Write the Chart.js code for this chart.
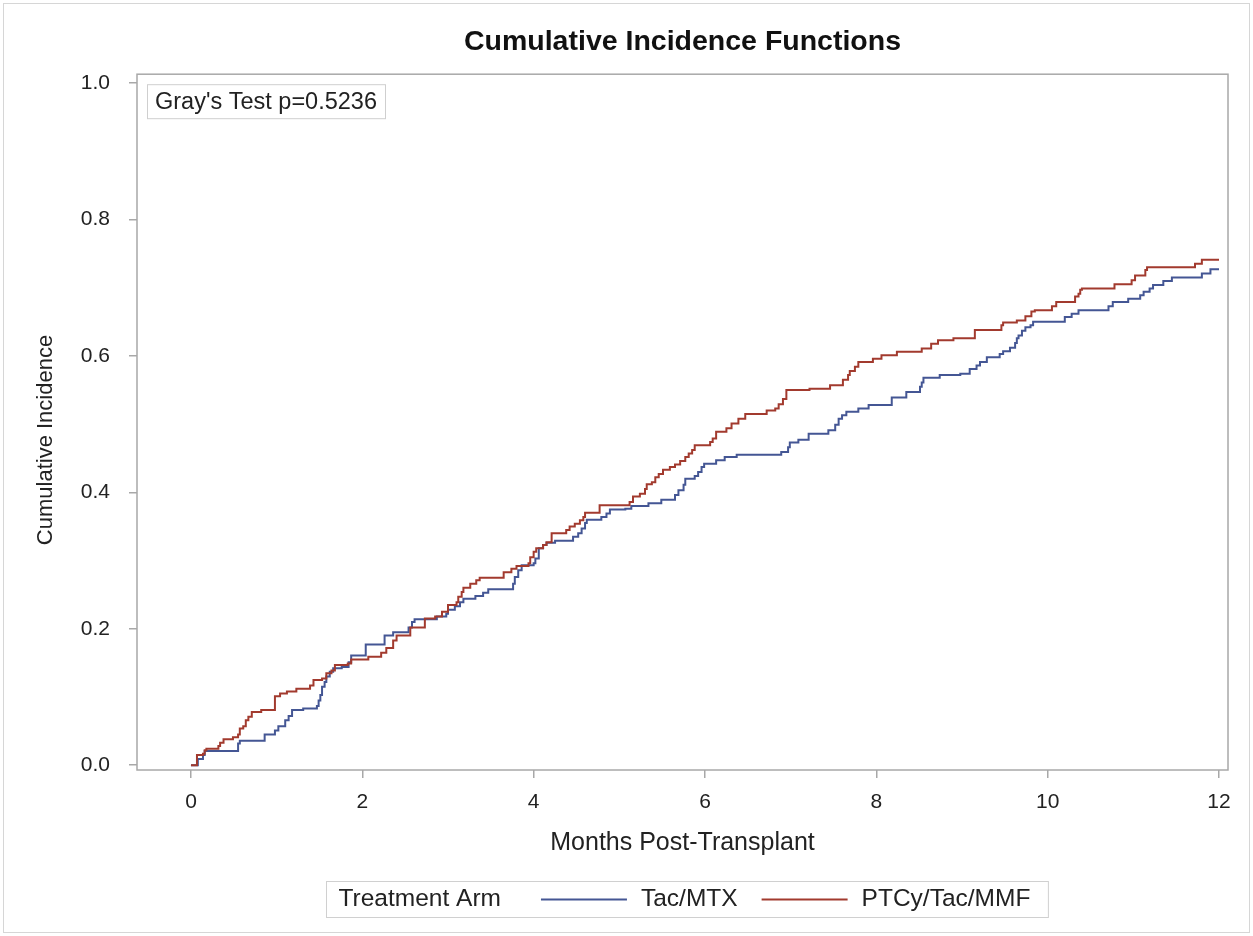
<!DOCTYPE html>
<html>
<head>
<meta charset="utf-8">
<script src="https://cdn.jsdelivr.net/npm/chart.js@4"></script>
<style>
  body { margin: 0; background: #fff; }
  canvas { display: block; }
</style>
</head>
<body>
<canvas id="myChart" width="1253" height="936"></canvas>
<script>
const xTicks = [0, 2, 4, 6, 8, 10, 12];
const yTicks = [0, 0.2, 0.4, 0.6, 0.8, 1.0];

const seriesNames = ["Tac/MTX", "PTCy/Tac/MMF"];

// Tac/MTX step points (months, cumulative incidence)
const tacMonths = [0, 0.08, 0.14, 0.16, 0.55, 0.57, 0.86, 0.98, 1.02, 1.10, 1.14, 1.18, 1.31, 1.47, 1.49, 1.51, 1.53, 1.56, 1.58, 1.62, 1.66, 1.76, 1.84, 1.87,
  2.04, 2.26, 2.36, 2.54, 2.58, 2.61, 2.87, 2.98, 3.00, 3.08, 3.14, 3.18, 3.32, 3.41, 3.47, 3.76, 3.78, 3.82, 3.86,
  4.00, 4.02, 4.06, 4.11, 4.15, 4.25, 4.46, 4.52, 4.56, 4.60, 4.62, 4.79, 4.85, 4.89, 5.07, 5.14, 5.34, 5.49, 5.65, 5.69, 5.75, 5.77, 5.88, 5.92, 5.96, 5.99,
  6.13, 6.23, 6.37, 6.89, 6.97, 6.99, 7.09, 7.21, 7.44, 7.52, 7.56, 7.60, 7.65, 7.79, 7.91,
  8.18, 8.35, 8.51, 8.53, 8.55, 8.74, 8.98, 9.09, 9.17, 9.21, 9.29, 9.44, 9.48, 9.56, 9.62, 9.64, 9.66, 9.70, 9.74, 9.80, 9.83,
  10.20, 10.28, 10.36, 10.71, 10.76, 10.94, 11.08, 11.12, 11.19, 11.23, 11.35, 11.45, 11.80, 11.90, 12.00];
const tacCI = [0, 0.009, 0.015, 0.021, 0.032, 0.036, 0.045, 0.051, 0.057, 0.066, 0.072, 0.081, 0.083, 0.087, 0.095, 0.103, 0.115, 0.122, 0.130, 0.137, 0.142, 0.144, 0.151, 0.161,
  0.177, 0.190, 0.195, 0.202, 0.210, 0.214, 0.218, 0.222, 0.228, 0.233, 0.239, 0.244, 0.248, 0.253, 0.258, 0.266, 0.276, 0.286, 0.293,
  0.296, 0.303, 0.318, 0.323, 0.326, 0.329, 0.335, 0.340, 0.347, 0.355, 0.360, 0.364, 0.369, 0.375, 0.376, 0.380, 0.384, 0.389, 0.396, 0.403, 0.411, 0.420, 0.424, 0.430, 0.437, 0.442,
  0.447, 0.452, 0.455, 0.459, 0.466, 0.473, 0.477, 0.486, 0.491, 0.499, 0.508, 0.513, 0.518, 0.523, 0.528,
  0.539, 0.547, 0.555, 0.561, 0.568, 0.572, 0.574, 0.581, 0.586, 0.591, 0.598, 0.603, 0.607, 0.612, 0.619, 0.626, 0.630, 0.637, 0.642, 0.645, 0.650,
  0.657, 0.662, 0.667, 0.673, 0.679, 0.684, 0.689, 0.694, 0.699, 0.704, 0.710, 0.715, 0.721, 0.727, 0.727];

// PTCy/Tac/MMF step points
const ptcyMonths = [0, 0.07, 0.14, 0.16, 0.18, 0.32, 0.34, 0.38, 0.49, 0.55, 0.57, 0.61, 0.64, 0.67, 0.71, 0.82, 0.98, 1.04, 1.12, 1.23, 1.39, 1.43, 1.53, 1.58, 1.64, 1.68, 1.83, 1.87,
  2.07, 2.22, 2.28, 2.36, 2.40, 2.56, 2.73, 2.85, 2.93, 3.00, 3.10, 3.12, 3.16, 3.18, 3.26, 3.33, 3.37, 3.65, 3.74, 3.80, 3.94, 3.96,
  4.00, 4.03, 4.11, 4.15, 4.21, 4.38, 4.42, 4.48, 4.54, 4.58, 4.60, 4.77, 5.12, 5.16, 5.24, 5.30, 5.32, 5.38, 5.42, 5.46, 5.51, 5.59, 5.65, 5.71, 5.77, 5.81, 5.85, 5.88,
  6.06, 6.09, 6.13, 6.25, 6.31, 6.39, 6.47, 6.72, 6.82, 6.86, 6.91, 6.95, 7.22, 7.46, 7.61, 7.67, 7.69, 7.75, 7.79, 7.96,
  8.06, 8.24, 8.53, 8.64, 8.72, 8.90, 9.15, 9.46, 9.48, 9.64, 9.74, 9.81, 9.85,
  10.05, 10.10, 10.32, 10.36, 10.38, 10.40, 10.78, 10.98, 11.02, 11.14, 11.16, 11.72, 11.80, 12.00];
const ptcyCI = [0, 0.015, 0.017, 0.022, 0.024, 0.028, 0.033, 0.038, 0.041, 0.045, 0.054, 0.057, 0.066, 0.071, 0.078, 0.081, 0.101, 0.105, 0.108, 0.112, 0.117, 0.125, 0.127, 0.135, 0.139, 0.147, 0.149, 0.155,
  0.159, 0.165, 0.172, 0.183, 0.190, 0.202, 0.215, 0.218, 0.225, 0.235, 0.239, 0.247, 0.254, 0.260, 0.266, 0.271, 0.275, 0.283, 0.288, 0.292, 0.296, 0.305,
  0.313, 0.318, 0.323, 0.327, 0.340, 0.345, 0.350, 0.354, 0.359, 0.364, 0.370, 0.381, 0.386, 0.394, 0.398, 0.405, 0.412, 0.415, 0.422, 0.427, 0.433, 0.437, 0.441, 0.446, 0.452, 0.457, 0.462, 0.469,
  0.474, 0.479, 0.489, 0.494, 0.501, 0.508, 0.515, 0.520, 0.523, 0.529, 0.537, 0.550, 0.552, 0.557, 0.565, 0.572, 0.578, 0.584, 0.591, 0.596,
  0.601, 0.606, 0.611, 0.618, 0.623, 0.626, 0.638, 0.645, 0.649, 0.652, 0.658, 0.665, 0.667,
  0.673, 0.679, 0.687, 0.691, 0.697, 0.699, 0.705, 0.711, 0.718, 0.726, 0.730, 0.735, 0.741, 0.741];

const FONT = "'Liberation Sans', Arial, sans-serif";
const TEXT = "#222";
const FRAME = "#a8a8a8";

function toPoints(xs, ys) {
    return xs.map((x, i) => ({ x: x, y: ys[i] }));
}

// plot frame, inset text box, y title and legend
const extras = {
    id: "extras",
    afterDraw(chart) {
        const c = chart.ctx;
        const a = chart.chartArea;
        c.save();
        // outer border
        c.strokeStyle = "#d6d6d6";
        c.lineWidth = 1;
        c.strokeRect(3.5, 3.5, chart.width - 7, chart.height - 7);
        // frame
        c.strokeStyle = FRAME;
        c.lineWidth = 1.5;
        c.strokeRect(a.left, a.top, a.right - a.left, a.bottom - a.top);

        // Gray's test box
        c.font = "23.5px " + FONT;
        c.textBaseline = "middle";
        const note = "Gray's Test p=0.5236";
        const nw = c.measureText(note).width;
        c.strokeStyle = "#cfcfcf";
        c.lineWidth = 1;
        c.strokeRect(a.left + 10.5, a.top + 10.5, nw + 16, 34);
        c.fillStyle = TEXT;
        c.textAlign = "left";
        c.fillText(note, a.left + 18, a.top + 28);

        // y axis title
        c.save();
        c.translate(46, 440);
        c.rotate(-Math.PI / 2);
        c.textAlign = "center";
        c.font = "22px " + FONT;
        c.fillText("Cumulative Incidence", 0, 0);
        c.restore();

        // legend
        c.font = "24.5px " + FONT;
        const title = "Treatment Arm";
        const lineLen = 86;
        const pad = 12;
        const parts = [c.measureText(title).width + 40];
        chart.data.datasets.forEach((ds, i) => {
            parts.push(lineLen + 14 + c.measureText(ds.label).width + (i < chart.data.datasets.length - 1 ? 24 : 0));
        });
        const total = pad * 2 + 6 + parts.reduce((s, v) => s + v, 0);
        const cx = (a.left + a.right) / 2 + 4;
        let x = Math.round(cx - total / 2) + 0.5;
        const top = 881.5, h = 36, ly = top + h / 2;
        c.strokeStyle = "#d0d0d0";
        c.strokeRect(x, top, total, h);
        x += pad;
        c.fillStyle = TEXT;
        c.textAlign = "left";
        c.fillText(title, x, ly);
        x += parts[0];
        chart.data.datasets.forEach((ds) => {
            c.strokeStyle = ds.borderColor;
            c.lineWidth = 2;
            c.beginPath();
            c.moveTo(x, ly);
            c.lineTo(x + lineLen, ly);
            c.stroke();
            x += lineLen + 14;
            c.fillText(ds.label, x, ly);
            x += c.measureText(ds.label).width + 24;
        });
        c.restore();
    }
};

const ctx = document.getElementById("myChart").getContext("2d");
const myChart = new Chart(ctx, {
    type: "line",
    data: {
        datasets: [
            {
                label: seriesNames[0],
                data: toPoints(tacMonths, tacCI),
                borderColor: "#445694",
                borderWidth: 2,
                stepped: true,
                pointRadius: 0,
                fill: false,
                order: 1,
            },
            {
                label: seriesNames[1],
                data: toPoints(ptcyMonths, ptcyCI),
                borderColor: "#A23A2E",
                borderWidth: 2,
                stepped: true,
                pointRadius: 0,
                fill: false,
                order: 0,
            },
        ],
    },
    options: {
        responsive: false,
        animation: false,
        layout: { padding: { left: 0, right: 25, top: 0, bottom: 0 } },
        plugins: {
            legend: { display: false },
            tooltip: { enabled: false },
            title: {
                display: true,
                fullSize: false,
                text: "Cumulative Incidence Functions",
                color: "#111",
                font: { family: FONT, size: 28.5, weight: "bold" },
                padding: { top: 25, bottom: 15 },
            },
        },
        scales: {
            x: {
                type: "linear",
                min: -0.63,
                max: 12.105,
                afterBuildTicks: (s) => { s.ticks = xTicks.map((v) => ({ value: v })); },
                afterFit: (s) => { s.height = 166; },
                ticks: { color: TEXT, font: { family: FONT, size: 21 }, padding: 12, maxRotation: 0 },
                grid: { drawOnChartArea: false, drawTicks: true, tickLength: 8, color: FRAME, lineWidth: 1.5 },
                border: { display: false },
                title: {
                    display: true,
                    text: "Months Post-Transplant",
                    color: TEXT,
                    font: { family: FONT, size: 25 },
                    padding: { top: 0, bottom: 78 },
                },
            },
            y: {
                min: -0.007,
                max: 1.013,
                afterBuildTicks: (s) => { s.ticks = yTicks.map((v) => ({ value: v })); },
                afterFit: (s) => { s.width = 137; },
                ticks: { color: TEXT, font: { family: FONT, size: 21 }, padding: 19, callback: (v) => v.toFixed(1) },
                grid: { drawOnChartArea: false, drawTicks: true, tickLength: 8, color: FRAME, lineWidth: 1.5 },
                border: { display: false },
            },
        },
    },
    plugins: [extras],
});
</script>
</body>
</html>
